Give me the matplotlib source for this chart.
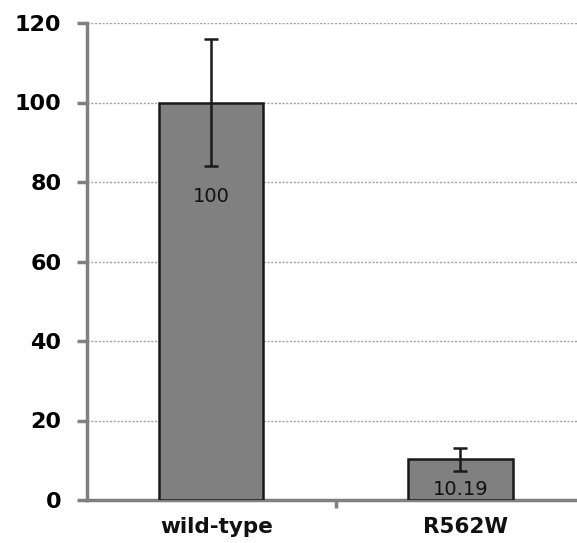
import matplotlib
matplotlib.use("Agg")
import matplotlib.pyplot as plt
import numpy as np

categories = ["wild-type", "R562W"]
values = [100, 10.19]
errors = [16.0, 2.9]
value_labels = ["100", "10.19"]
yticks = [0, 20, 40, 60, 80, 100, 120]

plt.rcParams['font.family'] = ['DejaVu Sans']

fig = plt.figure(figsize=(5.77, 5.43), dpi=100)
ax = fig.add_axes([87/577, 43/543, 490/577, 477/543])

x = np.arange(len(categories))
ax.bar(x, values, width=0.42, color="#808080", edgecolor="#1a1a1a", linewidth=1.8, zorder=3)
ax.errorbar(x, values, yerr=errors, fmt="none", ecolor="#1a1a1a", elinewidth=1.8,
            capsize=5, capthick=1.8, zorder=4)

for xi, v, lab in zip(x, values, value_labels):
    y = v - 23.6 if v > 50 else 2.6
    ax.text(xi, y, lab, ha="center", va="center", fontsize=14, color="#111111", zorder=5)

ax.set_ylim(0, 120)
ax.set_xlim(-0.497, 1.467)
ax.set_yticks(yticks)
ax.set_yticklabels([str(t) for t in yticks], fontsize=16, fontweight="bold")
ax.yaxis.grid(True, linestyle=(0, (1.5, 1.2)), color="#a0a0a0", linewidth=1, zorder=0)
ax.set_axisbelow(True)

ax.set_xticks([0.5])
ax.set_xticklabels([""])
ax.tick_params(axis="x", length=6, width=2.5, color="#808080", direction="out")
ax.tick_params(axis="y", length=7.5, width=2.5, color="#808080", direction="out", pad=11)

for xi, cat in zip(x, categories):
    ax.text(xi + 0.022, -4.3, cat, ha="center", va="top", fontsize=15.5, fontweight="bold",
            color="#111111", clip_on=False)

for s in ["top", "right"]:
    ax.spines[s].set_visible(False)
for s in ["left", "bottom"]:
    ax.spines[s].set_color("#808080")
    ax.spines[s].set_linewidth(2.5)

fig.savefig("out.png", dpi=100)
